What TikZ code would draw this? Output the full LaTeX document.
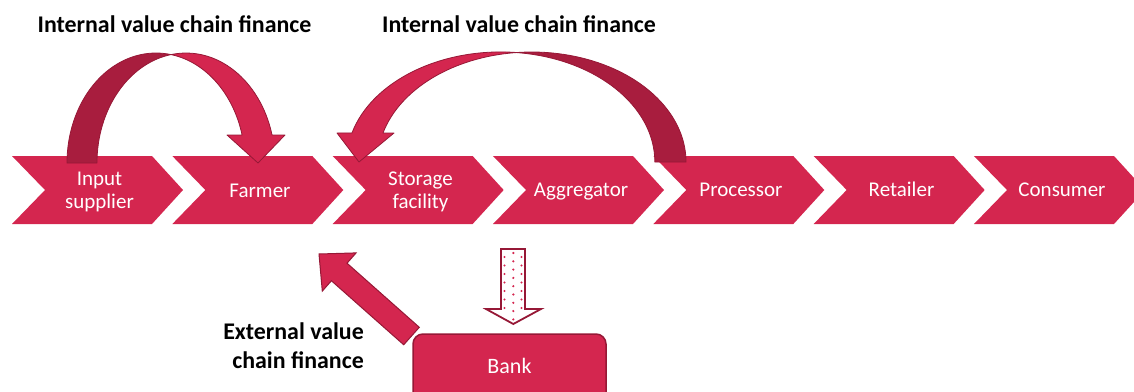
\documentclass[tikz,border=0pt]{standalone}
\usepackage{fontspec}
\setmainfont{Carlito}
\definecolor{crim}{RGB}{212,38,79}
\definecolor{crimdark}{RGB}{168,29,62}
\definecolor{crimline}{RGB}{150,24,54}
\begin{document}
\begin{tikzpicture}[x=1pt,y=-1pt,
  chev/.style={fill=crim},
  chevtext/.style={text=white, font=\fontsize{21}{23}\selectfont, inner sep=0pt, align=center},
  titletext/.style={text=black, font=\fontsize{23.9}{29}\selectfont\bfseries, inner sep=0pt, align=right},
  backband/.style={fill=crimdark, draw=crimline, line width=0.8pt, line join=round},
  frontband/.style={fill=crim, draw=crimline, line width=0.8pt, line join=round},
  blockarrow/.style={fill=crim, draw=crimline, line width=1pt, line join=miter},
  hollowarrow/.style={fill=white, draw=crimline, line width=1.8pt, line join=miter},
  bankbox/.style={fill=crim, draw=crimline, line width=1.5pt, rounded corners=10pt},
  dotmark/.style={fill=crim}]
\useasboundingbox (0,0) rectangle (1134,391);
\clip (0,0) rectangle (1134,391);

% chevrons
\foreach \i in {0,...,6} {
  \pgfmathsetmacro\L{12+160.33*\i}
  \fill[chev] (\L,156) -- ++(140,0) -- ++(31,34) -- ++(-31,34) -- ++(-140,0) -- ++(33,-34) -- cycle;
}
\node[chevtext] (sup)  at (99.5,192) {Input\\supplier};
\node[chevtext, anchor=base] (farm) at (260,197) {Farmer};
\node[chevtext] (stor) at (420.5,192) {Storage\\facility};
\node[chevtext, anchor=base] (agg)  at (581,196.5) {Aggregator};
\node[chevtext, anchor=base] (proc) at (741,196.5) {Processor};
\node[chevtext, anchor=base] (ret)  at (901.5,196.5) {Retailer};
\node[chevtext, anchor=base] (cons) at (1062,196.5) {Consumer};

% curved arrow 1 (input supplier -> farmer)
\fill[backband] (67,163) arc[start angle=180, end angle=279.7, x radius=89, y radius=110]
  arc[start angle=260.3, end angle=180, x radius=89, y radius=110] -- cycle;
\fill[frontband] (171,54.6) arc[start angle=260.3, end angle=345.25, x radius=89, y radius=110]
  -- (285,135) -- (258,163) -- (227,135) -- (242.1,135)
  arc[start angle=345.25, end angle=279.7, x radius=89, y radius=110] -- cycle;

% curved arrow 2 (processor -> storage facility)
\fill[backband] (686,162) arc[start angle=360, end angle=264.2, x radius=154.2, y radius=110]
  arc[start angle=275.8, end angle=360, x radius=154.2, y radius=110] -- cycle;
\fill[frontband] (516.3,52.5) arc[start angle=275.8, end angle=195.29, x radius=154.2, y radius=110]
  -- (337,133) -- (359,162) -- (394,133) -- (383,133)
  arc[start angle=195.29, end angle=264.2, x radius=154.2, y radius=110] -- cycle;

% titles
\node[titletext, anchor=base] (t1) at (174.5,32) {Internal value chain finance};
\node[titletext, anchor=base] (t2) at (519,32) {Internal value chain finance};
\node[titletext, anchor=east] (ext) at (364,345.5) {External value\\chain finance};

% bank
\draw[bankbox] (413,334) rectangle (606,440);
\node[chevtext, font=\fontsize{22}{24}\selectfont, anchor=base] (bank) at (509.5,373) {Bank};

% external arrow
\filldraw[blockarrow] (419.3,327.3) -- (347,263.2) -- (356.1,252.9) -- (319,254)
  -- (322.3,291.1) -- (331.4,280.75) -- (403.7,344.75) -- cycle;

% hollow dotted arrow
\filldraw[hollowarrow] (501,249) -- (525,249) -- (525,309) -- (541,309) -- (513.3,324)
  -- (486,309) -- (501,309) -- cycle;
\begin{scope}
  \clip (502,250) -- (524,250) -- (524,310) -- (538,310) -- (513.3,322.5) -- (489,310) -- (502,310) -- cycle;
  \foreach \k in {0,...,6} {
    \fill[dotmark] (504.5,257+8.5*\k) circle (1.2);
    \fill[dotmark] (521.5,257+8.5*\k) circle (1.2);
  }
  \foreach \k in {0,...,8} {
    \fill[dotmark] (513.3,253+8.3*\k) circle (1.2);
  }
\end{scope}
\end{tikzpicture}
\end{document}
